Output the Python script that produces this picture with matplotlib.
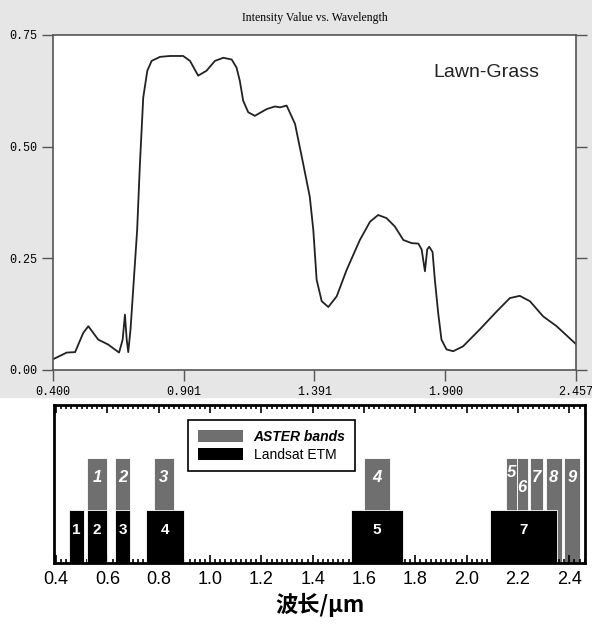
import numpy as np
import matplotlib.pyplot as plt
from matplotlib.patches import Patch, Rectangle
from matplotlib.ticker import MultipleLocator

# spectrum of lawn grass (wavelength in um, intensity)
wl = [0.400, 0.454, 0.487, 0.519, 0.539, 0.578, 0.617, 0.660, 0.674, 0.683, 0.690,
      0.696, 0.705, 0.718, 0.731, 0.742, 0.755, 0.771, 0.788, 0.821, 0.860, 0.912,
      0.939, 0.971, 1.004, 1.037, 1.070, 1.103, 1.122, 1.135, 1.148, 1.168, 1.194,
      1.240, 1.273, 1.293, 1.319, 1.352, 1.384, 1.410, 1.424, 1.437, 1.457, 1.483,
      1.516, 1.555, 1.607, 1.647, 1.679, 1.712, 1.745, 1.778, 1.811, 1.837, 1.850,
      1.863, 1.872, 1.880, 1.893, 1.902, 1.915, 1.928, 1.948, 1.974, 2.013, 2.079,
      2.145, 2.197, 2.236, 2.276, 2.328, 2.381, 2.457]
intensity = [0.024, 0.039, 0.040, 0.083, 0.098, 0.068, 0.057, 0.039, 0.068, 0.124, 0.068,
             0.040, 0.091, 0.202, 0.313, 0.462, 0.610, 0.670, 0.692, 0.701, 0.703, 0.703,
             0.692, 0.659, 0.670, 0.692, 0.699, 0.695, 0.677, 0.647, 0.603, 0.577, 0.569,
             0.584, 0.590, 0.588, 0.592, 0.551, 0.462, 0.388, 0.313, 0.202, 0.154, 0.141,
             0.165, 0.224, 0.291, 0.332, 0.347, 0.340, 0.321, 0.291, 0.284, 0.283, 0.270,
             0.221, 0.270, 0.276, 0.264, 0.202, 0.128, 0.068, 0.046, 0.042, 0.053, 0.091,
             0.131, 0.161, 0.166, 0.154, 0.120, 0.098, 0.058]
top_tick_labels = ['0.400', '0.901', '1.391', '1.900', '2.457']
top_y_ticks = [0.0, 0.25, 0.50, 0.75]

# sensor bands (start, end) in um
aster_names = ['1', '2', '3', '4', '5', '6', '7', '8', '9']
aster_lo = [0.52, 0.63, 0.78, 1.60, 2.153, 2.195, 2.246, 2.309, 2.379]
aster_hi = [0.60, 0.69, 0.86, 1.70, 2.195, 2.237, 2.296, 2.370, 2.441]
etm_names = ['1', '2', '3', '4', '5', '7']
etm_lo = [0.45, 0.52, 0.63, 0.75, 1.55, 2.09]
etm_hi = [0.51, 0.60, 0.69, 0.90, 1.75, 2.35]

fig = plt.figure(figsize=(5.92, 6.27), dpi=100)
fig.patches.append(Rectangle((0, 0.367), 1, 0.633, transform=fig.transFigure,
                             color='#e6e6e6', zorder=-10))

# ---- top: spectrum ----
ax1 = fig.add_axes([0.0895, 0.4099, 0.8834, 0.5343])
ax1.plot(wl, intensity, color='#222222', lw=1.3)
ax1.set_xlim(0.400, 2.457)
ax1.set_ylim(0, 0.75)
ax1.set_xticks(np.linspace(0.400, 2.457, 5))
ax1.set_xticklabels(top_tick_labels, family='Liberation Mono', fontsize=8.5)
ax1.set_yticks(top_y_ticks)
ax1.set_yticklabels(['%.2f' % v for v in top_y_ticks], family='Liberation Mono', fontsize=8.5)
ax1.tick_params(direction='out', length=8, width=1, color='#555555', right=True)
for s in ax1.spines.values():
    s.set_color('#555555')
    s.set_linewidth(1.2)
ax1.set_title('Intensity Value vs. Wavelength', family='Liberation Serif', fontsize=8.5, pad=10)
ax1.text(0.728, 0.875, 'Lawn-Grass', transform=ax1.transAxes, fontsize=14,
         family='Liberation Sans', color='#222222')

# ---- bottom: bands ----
ax2 = fig.add_axes([0.0912, 0.1021, 0.897, 0.252])
aster_c = '#6f6f6f'
ax2.bar(aster_lo, 2, width=np.subtract(aster_hi, aster_lo), align='edge',
        color=aster_c, edgecolor='white', linewidth=0.6, zorder=1)
ax2.bar(etm_lo, 1, width=np.subtract(etm_hi, etm_lo), align='edge',
        color='black', edgecolor='white', linewidth=0.6, zorder=2)
for i, n in enumerate(aster_names):
    yy = 1.63
    if n == '5':
        yy = 1.72
    if n == '6':
        yy = 1.44
    ax2.text((aster_lo[i] + aster_hi[i]) / 2, yy, n, color='white', ha='center', va='center',
             fontsize=12, fontweight='bold', style='italic', family='Liberation Sans', zorder=3)
for i, n in enumerate(etm_names):
    ax2.text((etm_lo[i] + etm_hi[i]) / 2, 0.62, n, color='white', ha='center', va='center',
             fontsize=11, fontweight='bold', family='Liberation Sans', zorder=3)
ax2.set_xlim(0.392, 2.461)
ax2.set_ylim(0, 3)
ax2.set_yticks([])
ax2.xaxis.set_minor_locator(MultipleLocator(0.02))
ax2.set_xticks(np.arange(0.4, 2.41, 0.2))
ax2.set_xticklabels(['%.1f' % v for v in np.arange(0.4, 2.41, 0.2)], fontsize=13,
                    family='Liberation Sans')
ax2.tick_params(which='both', direction='in', top=True, width=1.2)
ax2.tick_params(which='major', length=6, pad=6)
ax2.tick_params(which='minor', length=3)
for s in ax2.spines.values():
    s.set_linewidth(2)
leg = ax2.legend(handles=[Patch(facecolor=aster_c, label='ASTER bands'),
                          Patch(facecolor='black', label='Landsat ETM')],
                 loc='upper left', bbox_to_anchor=(0.24, 0.95), fancybox=False,
                 edgecolor='black', framealpha=1, fontsize=10, handlelength=3.2,
                 handleheight=0.9, borderpad=0.7, labelspacing=0.3)
leg.get_frame().set_linewidth(1.2)
leg.get_texts()[0].set_fontweight('bold')
leg.get_texts()[0].set_style('italic')
for t in leg.get_texts():
    t.set_family('Liberation Sans')
ax2.set_xlabel('波长/μm', family=['Noto Sans CJK SC', 'DejaVu Sans'], fontsize=16,
               fontweight='bold', labelpad=3)

fig.savefig('out.png', dpi=100)
